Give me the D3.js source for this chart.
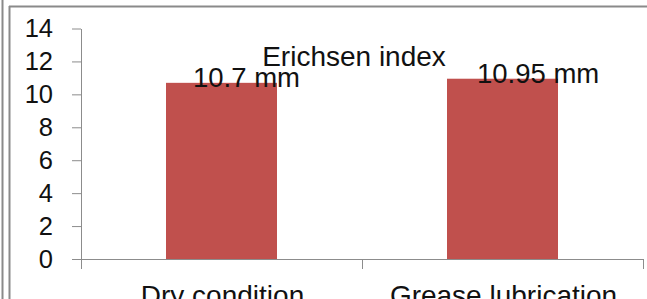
<!DOCTYPE html>
<html>
<head>
<meta charset="utf-8">
<script src="https://cdn.jsdelivr.net/npm/d3@7"></script>
<style>
  body { margin: 0; background: #fff; }
  text { font-family: "Liberation Sans", Arial, sans-serif; fill: #111; }
</style>
</head>
<body>
<script>
var categories = ["Dry condition", "Grease lubrication"];
var values = [10.7, 10.95];
var labels = ["10.7 mm", "10.95 mm"];
var yTicks = [0, 2, 4, 6, 8, 10, 12, 14];
var title = "Erichsen index";

var width = 647,
    height = 299;

var svg = d3.select("body").append("svg")
    .attr("width", width)
    .attr("height", height);

// outer frame (double line on the left, single on top)
svg.append("line").attr("x1", 2.5).attr("x2", 2.5).attr("y1", 0).attr("y2", height)
    .attr("stroke", "#8a8a8a").attr("stroke-width", 2);
svg.append("line").attr("x1", 9.5).attr("x2", 9.5).attr("y1", 6).attr("y2", height)
    .attr("stroke", "#8a8a8a").attr("stroke-width", 2);
svg.append("line").attr("x1", 9).attr("x2", width).attr("y1", 6.5).attr("y2", 6.5)
    .attr("stroke", "#8a8a8a").attr("stroke-width", 2);

var x = d3.scaleBand()
    .domain(categories)
    .range([81, 643])
    .paddingInner(0)
    .paddingOuter(0);

var y = d3.scaleLinear()
    .domain([0, 14])
    .range([259, 28.5]);

var barW = x.bandwidth() * 0.395;

// y axis
var yAxis = svg.append("g")
    .attr("transform", "translate(81,0)")
    .call(d3.axisLeft(y).tickValues(yTicks).tickSize(9).tickSizeOuter(0).tickPadding(19));
yAxis.select(".domain").attr("stroke", "#8c8c8c");
yAxis.selectAll(".tick line").attr("stroke", "#8c8c8c");
yAxis.selectAll(".tick text")
    .style("font-size", "25.5px")
    .style("font-family", "'Liberation Sans', Arial, sans-serif")
    .attr("fill", "#111");

// bars
svg.selectAll("rect.bar")
    .data(values)
  .enter().append("rect")
    .attr("class", "bar")
    .attr("x", function(d, i) { return x(categories[i]) + (x.bandwidth() - barW) / 2; })
    .attr("y", function(d) { return y(d); })
    .attr("width", barW)
    .attr("height", function(d) { return y(0) - y(d); })
    .attr("fill", "#c0504d");

// x axis
var xAxisG = svg.append("g");
xAxisG.append("line")
    .attr("x1", 72).attr("x2", x.range()[1])
    .attr("y1", y(0) + 0.5).attr("y2", y(0) + 0.5)
    .attr("stroke", "#8c8c8c");
var bounds = categories.map(function(c) { return x(c); }).concat([x.range()[1]]);
xAxisG.selectAll("line.ct")
    .data(bounds)
  .enter().append("line")
    .attr("class", "ct")
    .attr("x1", function(d) { return Math.round(d) + 0.5; })
    .attr("x2", function(d) { return Math.round(d) + 0.5; })
    .attr("y1", y(0))
    .attr("y2", y(0) + 10)
    .attr("stroke", "#8c8c8c");

xAxisG.selectAll("text.cat")
    .data(categories)
  .enter().append("text")
    .attr("class", "cat")
    .attr("x", function(d) { return x(d) + x.bandwidth() / 2 + 1; })
    .attr("y", 305)
    .attr("text-anchor", "middle")
    .style("font-size", "28px")
    .text(function(d) { return d; });

// data labels
svg.selectAll("text.lbl")
    .data(values)
  .enter().append("text")
    .attr("class", "lbl")
    .attr("x", function(d, i) { return x(categories[i]) + (x.bandwidth() - barW) / 2 + 27 + i * 3; })
    .attr("y", function(d) { return y(d) + 4.5; })
    .style("font-size", "27.5px")
    .text(function(d, i) { return labels[i]; });

// title
svg.append("text")
    .attr("x", 354)
    .attr("y", 66)
    .attr("text-anchor", "middle")
    .style("font-size", "28px")
    .text(title);
</script>
</body>
</html>
